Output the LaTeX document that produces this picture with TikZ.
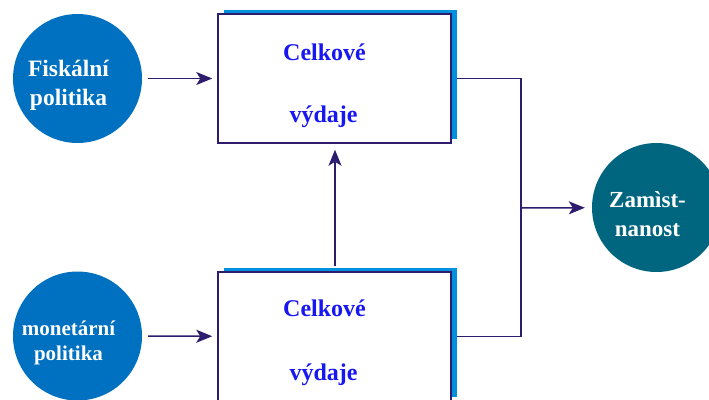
\documentclass[tikz,border=0pt]{standalone}
\usepackage{fontspec}
\setmainfont{Liberation Serif}
\usetikzlibrary{positioning,shadows,arrows.meta}

\definecolor{polblue}{HTML}{0070C0}
\definecolor{shadowblue}{HTML}{0090DD}
\definecolor{zamteal}{HTML}{00657E}
\definecolor{linepurple}{HTML}{2E1C6E}
\definecolor{labelblue}{HTML}{1717F2}

\begin{document}
\begin{tikzpicture}[x=1pt,y=-1pt]
  \tikzset{PolStyle/.style={circle, fill=polblue, minimum size=129pt, inner sep=0pt}}
  \tikzset{PolText/.style={text=white, align=center, xshift=-9pt, yshift=-7pt,
      font=\bfseries\fontsize{23.5}{29}\selectfont}}
  \tikzset{BoxStyle/.style={draw=linepurple, line width=1.5pt, fill=white,
      minimum width=233pt, minimum height=129pt,
      drop shadow={shadow xshift=5.5pt, shadow yshift=4.5pt, fill=shadowblue, opacity=1}}}
  \tikzset{LabelStyle/.style={text=labelblue, font=\bfseries\fontsize{24}{28}\selectfont}}
  \tikzset{EdgeStyle/.style={draw=linepurple, line width=1.5pt}}
  \tikzset{ArrowStyle/.style={EdgeStyle, -{Stealth[length=16pt,width=13pt,inset=4pt]}}}

  \useasboundingbox (0,0) rectangle (709,399);

  % policies
  \node[PolStyle] (fisk) at (77.5,78.5) {};
  \node[PolText] (fisktxt) at (fisk) {Fiskální\\politika};
  \node[PolStyle] (mon) at (77.5,336) {};
  \node[PolText, font=\bfseries\fontsize{21}{25}\selectfont] (montxt) at (mon) {monetární\\politika};

  % spending boxes
  \node[BoxStyle] (box1) at (334.5,78.5) {};
  \node[LabelStyle] (celk1) at ([xshift=-10pt,yshift=26pt]box1.center) {Celkové};
  \node[LabelStyle] (vyd1) at ([xshift=-11pt,yshift=-38pt]box1.center) {výdaje};
  \node[BoxStyle] (box2) at (334.5,336.5) {};
  \node[LabelStyle] (celk2) at ([xshift=-10pt,yshift=28pt]box2.center) {Celkové};
  \node[LabelStyle] (vyd2) at ([xshift=-11pt,yshift=-38pt]box2.center) {výdaje};

  % employment
  \node[PolStyle, fill=zamteal] (zam) at (656.5,207.5) {};
  \node[PolText, font=\bfseries\fontsize{23}{29}\selectfont] (zamtxt) at (zam) {Zamìst-\\nanost};

  \coordinate (jn) at (521,208);

  \draw[ArrowStyle, shorten <=6pt, shorten >=5pt] (fisk) -- (box1);
  \draw[ArrowStyle, shorten <=6pt, shorten >=5pt] (mon) -- (box2);
  \draw[ArrowStyle] ([xshift=.5pt,yshift=5pt]box2.north) -- ([xshift=.5pt,yshift=-6pt]box1.south);
  \draw[EdgeStyle] ([xshift=5pt]box1.east) -| (jn) |- ([xshift=5pt]box2.east);
  \draw[ArrowStyle, shorten >=7pt] (jn) -- (zam);
\end{tikzpicture}
\end{document}
